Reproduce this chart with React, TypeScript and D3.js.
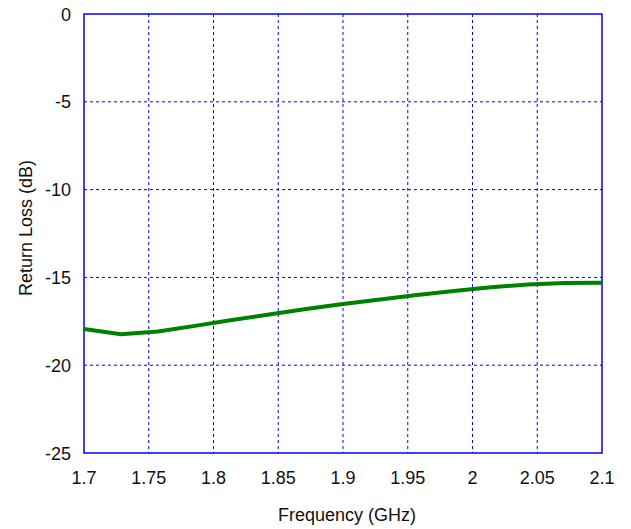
import React from "react";
import * as d3 from "d3";

const freqs = [1.7, 1.7286, 1.7571, 1.7857, 1.8143, 1.8429, 1.8714, 1.9, 1.9286, 1.9571, 1.9857, 2.0143, 2.0429, 2.0714, 2.1];
const returnLoss = [-17.94, -18.24, -18.08, -17.76, -17.43, -17.11, -16.8, -16.51, -16.26, -16.0, -15.77, -15.56, -15.4, -15.32, -15.3];
const xTicks = [1.7, 1.75, 1.8, 1.85, 1.9, 1.95, 2, 2.05, 2.1];
const yTicks = [0, -5, -10, -15, -20, -25];

export default function App() {
  const W = 631, H = 529;
  const left = 84, right = 602, top = 14, bottom = 453;
  const x = d3.scaleLinear().domain([1.7, 2.1]).range([left, right]);
  const y = d3.scaleLinear().domain([-25, 0]).range([bottom, top]);
  const line = d3.line<number>().x((_, i) => x(freqs[i])).y((d) => y(d));
  const font = "Liberation Sans, Arial, sans-serif";
  return (
    <svg width={W} height={H} style={{ position: "absolute", left: 0, top: 0 }}>
      <rect width={W} height={H} fill="#fff" />
      {xTicks.slice(1, -1).map((t) => (
        <line key={"gx" + t} x1={x(t)} x2={x(t)} y1={top} y2={bottom} stroke="#0000ff" strokeWidth={1} strokeDasharray="3,3" />
      ))}
      {yTicks.slice(1, -1).map((t) => (
        <line key={"gy" + t} x1={left} x2={right} y1={y(t)} y2={y(t)} stroke="#0000ff" strokeWidth={1} strokeDasharray="3,3" />
      ))}
      <rect x={left} y={top} width={right - left} height={bottom - top} fill="none" stroke="#0000ff" strokeWidth={1.5} />
      <path d={line(returnLoss) || ""} fill="none" stroke="#008000" strokeWidth={4} strokeLinejoin="round" />
      {xTicks.map((t) => (
        <text key={"tx" + t} x={x(t)} y={484} textAnchor="middle" fontFamily={font} fontSize={18} fill="#111">
          {String(t)}
        </text>
      ))}
      {yTicks.map((t) => (
        <text key={"ty" + t} x={71} y={y(t) + 6.5} textAnchor="end" fontFamily={font} fontSize={18} fill="#111">
          {String(t)}
        </text>
      ))}
      <text x={347} y={521} textAnchor="middle" fontFamily={font} fontSize={18} fill="#111">
        Frequency (GHz)
      </text>
      <text transform={`translate(32,228) rotate(-90)`} textAnchor="middle" fontFamily={font} fontSize={18} fill="#111">
        Return Loss (dB)
      </text>
    </svg>
  );
}
